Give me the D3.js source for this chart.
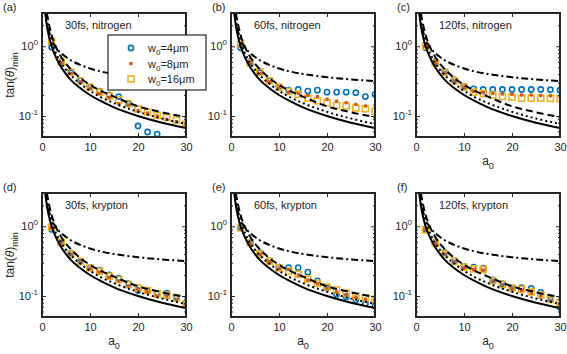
<!DOCTYPE html>
<html>
<head>
<meta charset="utf-8">
<script src="https://cdn.jsdelivr.net/npm/d3@7"></script>
<style>
body { margin: 0; background: #fff; }
svg { display: block; }
text { font-family: "Liberation Sans", Arial, Helvetica, sans-serif; fill: #262626; }
</style>
</head>
<body>
<div id="wrapper"></div>
<script>
// a0 values of the simulation points
const a0 = [2, 4, 6, 8, 10, 12, 14, 16, 18, 20, 22, 24, 26, 28, 30];

// nitrogen, 30 fs
const nit30_w4  = [0.97, 0.60, 0.42, 0.32, 0.26, 0.227, 0.20, 0.19, 0.15, 0.072, 0.059, 0.055, null, null, null];
const nit30_w8  = [1.10, 0.58, 0.41, 0.31, 0.25, 0.21, 0.185, 0.15, 0.145, 0.12, 0.11, 0.10, 0.09, 0.083, 0.075];
const nit30_w16 = [1.18, 0.59, 0.425, 0.32, 0.26, 0.22, 0.193, 0.17, 0.15, 0.126, 0.114, 0.102, 0.095, 0.087, 0.076];
// nitrogen, 60 fs
const nit60_w4  = [0.95, 0.60, 0.42, 0.32, 0.26, 0.235, 0.24, 0.228, 0.235, 0.22, 0.22, 0.22, 0.216, 0.19, 0.204];
const nit60_w8  = [1.00, 0.58, 0.41, 0.31, 0.26, 0.22, 0.21, 0.197, 0.19, 0.174, 0.164, 0.155, 0.147, 0.139, 0.14];
const nit60_w16 = [1.06, 0.58, 0.425, 0.32, 0.26, 0.225, 0.205, 0.18, 0.165, 0.155, 0.142, 0.139, 0.13, 0.127, 0.116];
// nitrogen, 120 fs
const nit120_w4  = [0.95, 0.60, 0.43, 0.33, 0.265, 0.245, 0.24, 0.24, 0.24, 0.24, 0.24, 0.24, 0.24, 0.238, 0.235];
const nit120_w8  = [1.00, 0.58, 0.42, 0.32, 0.26, 0.225, 0.215, 0.21, 0.207, 0.205, 0.20, 0.20, 0.197, 0.195, 0.19];
const nit120_w16 = [1.00, 0.58, 0.425, 0.32, 0.26, 0.22, 0.21, 0.20, 0.19, 0.187, 0.18, 0.18, 0.18, 0.179, 0.177];
// krypton, 30 fs
const kr30_w4  = [0.90, 0.58, 0.41, 0.31, 0.255, 0.235, 0.20, 0.18, 0.15, 0.12, 0.12, 0.11, 0.11, 0.095, 0.08];
const kr30_w8  = [0.95, 0.58, 0.40, 0.31, 0.25, 0.22, 0.185, 0.165, 0.14, 0.125, 0.115, 0.10, 0.10, 0.09, 0.075];
const kr30_w16 = [0.97, 0.59, 0.40, 0.315, 0.252, 0.226, 0.192, 0.172, 0.146, 0.13, 0.12, 0.107, 0.103, 0.094, 0.077];
// krypton, 60 fs
const kr60_w4  = [0.95, 0.58, 0.42, 0.32, 0.26, 0.255, 0.255, 0.22, 0.165, 0.13, 0.105, 0.097, 0.088, 0.078, 0.072];
const kr60_w8  = [0.92, 0.57, 0.40, 0.31, 0.25, 0.24, 0.20, 0.17, 0.15, 0.13, 0.115, 0.105, 0.097, 0.09, 0.085];
const kr60_w16 = [0.95, 0.58, 0.40, 0.315, 0.252, 0.226, 0.205, 0.175, 0.152, 0.135, 0.122, 0.11, 0.10, 0.094, 0.09];
// krypton, 120 fs
const kr120_w4  = [0.90, 0.58, 0.42, 0.32, 0.265, 0.26, 0.25, 0.17, 0.15, 0.13, 0.132, 0.129, 0.113, 0.09, 0.069];
const kr120_w8  = [0.90, 0.57, 0.40, 0.31, 0.255, 0.24, 0.235, 0.165, 0.145, 0.128, 0.12, 0.11, 0.10, 0.087, 0.078];
const kr120_w16 = [0.89, 0.575, 0.40, 0.315, 0.26, 0.245, 0.24, 0.166, 0.146, 0.13, 0.125, 0.114, 0.103, 0.089, 0.08];

// model curves
const solidA  = [0.67, 1, 1.5, 2, 3, 4, 5, 6, 8, 10, 12, 15, 20, 25, 30];
const solidT  = [3.0, 2.0, 1.33, 1.0, 0.67, 0.5, 0.4, 0.33, 0.25, 0.2, 0.167, 0.133, 0.1, 0.08, 0.067];
const dotA    = [0.75, 1, 1.5, 2, 3, 4, 5, 6, 8, 10, 12, 15, 20, 25, 30];
const dotT    = [3.0, 2.3, 1.53, 1.15, 0.77, 0.575, 0.46, 0.385, 0.29, 0.23, 0.19, 0.153, 0.115, 0.092, 0.077];
const dashA   = [1.0, 1.5, 2, 3, 4, 5, 6, 8, 10, 12, 15, 20, 25, 30];
const dashT   = [3.0, 2.0, 1.45, 0.95, 0.7, 0.56, 0.47, 0.35, 0.28, 0.235, 0.19, 0.138, 0.113, 0.097];
const ddotA   = [0.8, 1, 1.5, 2, 3, 4, 5, 6, 8, 10, 12, 15, 20, 25, 30];
const ddotT   = [3.0, 2.4, 1.6, 1.25, 0.95, 0.8, 0.7, 0.63, 0.54, 0.48, 0.44, 0.40, 0.36, 0.335, 0.316];

const xTicks = [0, 10, 20, 30];
const yMajor = [0.1, 1];
const yMinor = [0.05, 0.06, 0.07, 0.08, 0.09, 0.2, 0.3, 0.4, 0.5, 0.6, 0.7, 0.8, 0.9, 2, 3];
const legendLabels = ["4", "8", "16"];

const panels = [
    {tag: "(a)", note: "30fs, nitrogen",  col: 0, row: 0, s: [nit30_w4, nit30_w8, nit30_w16]},
    {tag: "(b)", note: "60fs, nitrogen",  col: 1, row: 0, s: [nit60_w4, nit60_w8, nit60_w16]},
    {tag: "(c)", note: "120fs, nitrogen", col: 2, row: 0, s: [nit120_w4, nit120_w8, nit120_w16]},
    {tag: "(d)", note: "30fs, krypton",   col: 0, row: 1, s: [kr30_w4, kr30_w8, kr30_w16]},
    {tag: "(e)", note: "60fs, krypton",   col: 1, row: 1, s: [kr60_w4, kr60_w8, kr60_w16]},
    {tag: "(f)", note: "120fs, krypton",  col: 2, row: 1, s: [kr120_w4, kr120_w8, kr120_w16]}
];

const colX = [42, 231, 416];
const rowY = [13, 193];
const pw = 144, ph = 124;
const axisCol = "#262626";
const cBlue = "#0072BD", cOrange = "#D95319", cYellow = "#EDB120";

const svg = d3.select("#wrapper").append("svg")
    .attr("width", 567)
    .attr("height", 354);

const x = d3.scaleLinear().domain([0, 30]).range([0, pw]);
const y = d3.scaleLog().domain([0.05, 3]).range([ph, 0]);

const line = d3.line()
    .x(d => x(d[0]))
    .y(d => y(d[1]))
    .curve(d3.curveMonotoneX);

const curves = [
    {a: solidA, t: solidT, dash: null},
    {a: dotA, t: dotT, dash: "2,3"},
    {a: dashA, t: dashT, dash: "7,4"},
    {a: ddotA, t: ddotT, dash: "7,3,2,3"}
];

svg.append("defs").append("clipPath").attr("id", "clip")
    .append("rect").attr("width", pw).attr("height", ph);

function supText(sel, base, sup, dySup) {
    sel.append("tspan").text(base);
    sel.append("tspan").text(sup).attr("font-size", "8px").attr("dy", dySup);
}

panels.forEach(p => {
    const g = svg.append("g")
        .attr("transform", `translate(${colX[p.col]},${rowY[p.row]})`);

    const plot = g.append("g").attr("clip-path", "url(#clip)");

    // markers
    const pts = s => a0.map((v, i) => [v, s[i]]).filter(d => d[1] != null);
    plot.selectAll(".c").data(pts(p.s[0])).join("circle")
        .attr("cx", d => x(d[0])).attr("cy", d => y(d[1])).attr("r", 2.6)
        .attr("fill", "none").attr("stroke", cBlue).attr("stroke-width", 1.6);
    plot.selectAll(".q").data(pts(p.s[2])).join("rect")
        .attr("x", d => x(d[0]) - 3).attr("y", d => y(d[1]) - 3)
        .attr("width", 6).attr("height", 6)
        .attr("fill", "none").attr("stroke", cYellow).attr("stroke-width", 1.6);
    plot.selectAll(".o").data(pts(p.s[1])).join("rect")
        .attr("x", d => x(d[0]) - 1.6).attr("y", d => y(d[1]) - 1.6)
        .attr("width", 3.2).attr("height", 3.2)
        .attr("fill", cOrange);

    // model curves
    curves.forEach(c => {
        plot.append("path")
            .attr("d", line(c.a.map((v, i) => [v, c.t[i]])))
            .attr("fill", "none")
            .attr("stroke", "#000")
            .attr("stroke-width", 2)
            .attr("stroke-dasharray", c.dash);
    });

    // ticks
    const tickStyle = ax => ax.selectAll("line").attr("stroke", axisCol);
    const xb = g.append("g").attr("transform", `translate(0,${ph})`)
        .call(d3.axisBottom(x).tickValues(xTicks).tickSize(-4).tickPadding(6));
    xb.select(".domain").remove();
    tickStyle(xb);
    xb.selectAll("text").attr("font-size", "11px").attr("fill", axisCol)
        .attr("font-family", "Liberation Sans, Arial, sans-serif");
    const xt = g.append("g")
        .call(d3.axisTop(x).tickValues(xTicks).tickSize(-4).tickFormat(""));
    xt.select(".domain").remove();
    tickStyle(xt);

    [[d3.axisLeft, 0], [d3.axisRight, pw]].forEach(([axf, off]) => {
        const big = g.append("g").attr("transform", `translate(${off},0)`)
            .call(axf(y).tickValues(yMajor).tickSize(-4).tickFormat(""));
        big.select(".domain").remove();
        tickStyle(big);
        const small = g.append("g").attr("transform", `translate(${off},0)`)
            .call(axf(y).tickValues(yMinor).tickSize(-2).tickFormat(""));
        small.select(".domain").remove();
        tickStyle(small);
    });

    // y tick labels
    yMajor.forEach(v => {
        const t = g.append("text")
            .attr("x", -4).attr("y", y(v) + 4)
            .attr("text-anchor", "end")
            .attr("font-size", "11px");
        supText(t, "10", v === 1 ? "0" : "-1", -5);
    });

    // box
    g.append("rect")
        .attr("width", pw).attr("height", ph)
        .attr("fill", "none").attr("stroke", axisCol).attr("stroke-width", 2);

    // annotation and panel tag
    g.append("text").attr("x", 23).attr("y", 16)
        .attr("font-size", "11px").text(p.note);
    g.append("text").attr("x", p.col === 0 ? -39 : -19).attr("y", -2)
        .attr("font-size", "11px").text(p.tag);

    // axis labels
    if (p.row === 1 || p.col === 2) {
        const t = g.append("text")
            .attr("x", pw / 2).attr("y", ph + 28)
            .attr("text-anchor", "middle").attr("font-size", "12px");
        t.append("tspan").text("a");
        t.append("tspan").text("0").attr("font-size", "9px").attr("dy", 4);
    }
    if (p.col === 0) {
        const t = g.append("text")
            .attr("transform", `translate(-28,${ph / 2}) rotate(-90)`)
            .attr("text-anchor", "middle").attr("font-size", "12px");
        t.append("tspan").text("tan(");
        t.append("tspan").text("θ").attr("font-style", "italic");
        t.append("tspan").text(")");
        t.append("tspan").text("min").attr("font-size", "9px").attr("dy", 4);
    }

    // legend in the first panel
    if (p.tag === "(a)") {
        const lg = svg.append("g").attr("transform", "translate(108,35)");
        lg.append("rect").attr("width", 98).attr("height", 55)
            .attr("fill", "#fff").attr("stroke", axisCol).attr("stroke-width", 1.2);
        const rows = [13, 28.5, 44];
        lg.append("circle").attr("cx", 23).attr("cy", rows[0]).attr("r", 2.6)
            .attr("fill", "none").attr("stroke", cBlue).attr("stroke-width", 1.6);
        lg.append("rect").attr("x", 21.4).attr("y", rows[1] - 1.6)
            .attr("width", 3.2).attr("height", 3.2).attr("fill", cOrange);
        lg.append("rect").attr("x", 20).attr("y", rows[2] - 3)
            .attr("width", 6).attr("height", 6)
            .attr("fill", "none").attr("stroke", cYellow).attr("stroke-width", 1.6);
        legendLabels.forEach((lab, i) => {
            const t = lg.append("text").attr("x", 40).attr("y", rows[i] + 4)
                .attr("font-size", "11px");
            t.append("tspan").text("w");
            t.append("tspan").text("0").attr("font-size", "8px").attr("dy", 3);
            t.append("tspan").text("=" + lab + "μm").attr("dy", -3);
        });
    }
});
</script>
</body>
</html>
